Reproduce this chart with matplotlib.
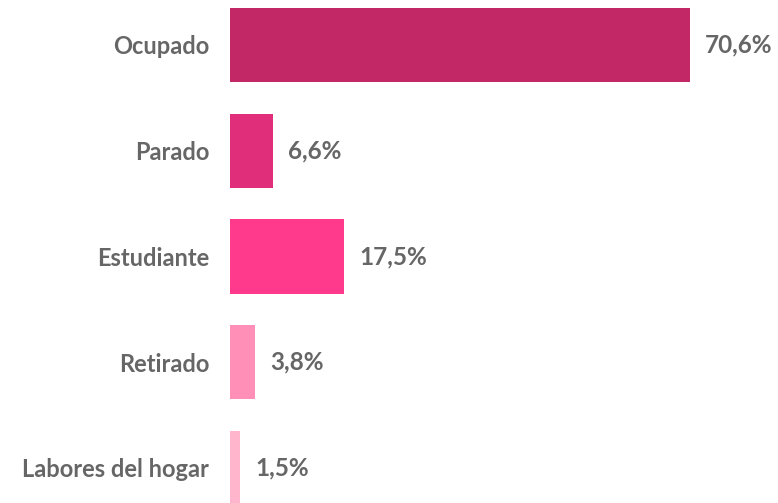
import matplotlib
matplotlib.use("Agg")
import matplotlib.pyplot as plt

categories = ["Ocupado", "Parado", "Estudiante", "Retirado", "Labores del hogar"]
values = [70.6, 6.6, 17.5, 3.8, 1.5]
labels = ["70,6%", "6,6%", "17,5%", "3,8%", "1,5%"]
colors = ["#C22865", "#E02E7A", "#FF3A8C", "#FF8FB6", "#FFB6CC"]

fig = plt.figure(figsize=(7.78, 5.03), dpi=100)
ax = fig.add_axes([230/778, 0, 1 - 230/778, 1])
pos = list(range(len(categories)))
ax.barh(pos, values, height=0.70, color=colors)
ax.set_xlim(0, 84.1)
ax.set_ylim(4.331, -0.4255)
ax.set_yticks(pos)
ax.set_yticklabels(categories, fontsize=17, color="#666666", fontweight="bold", family=["Lato", "DejaVu Sans"])
ax.tick_params(axis="y", length=0, pad=15)
ax.set_xticks([])
for s in ax.spines.values():
    s.set_visible(False)
for p, v, l in zip(pos, values, labels):
    ax.annotate(l, (v, p), xytext=(11, 0), textcoords="offset points", va="center", ha="left",
                fontsize=17.5, color="#666666", fontweight="bold", family=["Lato", "DejaVu Sans"])
fig.savefig("out.png", dpi=100)
